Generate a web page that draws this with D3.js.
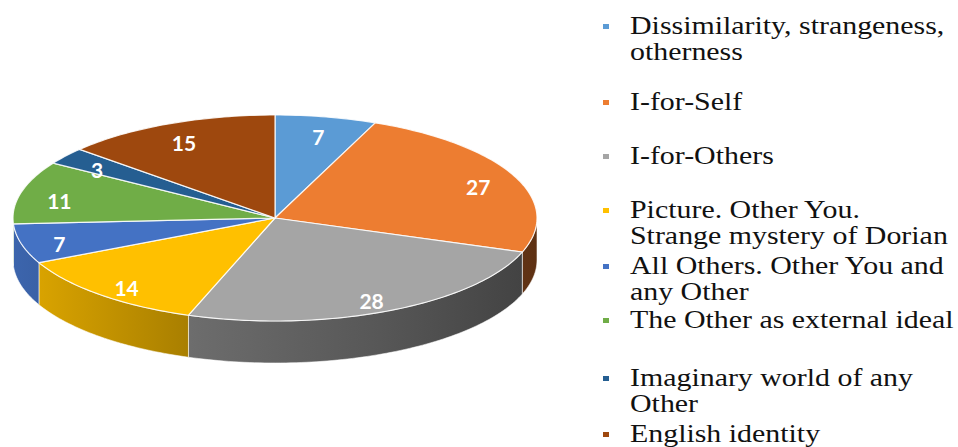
<!DOCTYPE html>
<html>
    <head>
        <script src="https://d3js.org/d3.v7.min.js"></script>
        <style>
            body { margin: 0; background: #ffffff; }
            svg { display: block; }
        </style>
    </head>
    <body>
        <div id="chart"></div>
        <script>
            // data
            var categories = ["Dissimilarity, strangeness, otherness", "I-for-Self", "I-for-Others",
                "Picture. Other You. Strange mystery of Dorian", "All Others. Other You and any Other",
                "The Other as external ideal", "Imaginary world of any Other", "English identity"];
            var values = [7, 27, 28, 14, 7, 11, 3, 15];
            var colors = ["#5B9BD5", "#ED7D31", "#A5A5A5", "#FFC000", "#4472C4", "#70AD47", "#255E91", "#9E480E"];
            // legend text broken into lines as in the picture
            var legendLines = [
                ["Dissimilarity, strangeness,", "otherness"],
                ["I-for-Self"],
                ["I-for-Others"],
                ["Picture. Other You.", "Strange mystery of Dorian"],
                ["All Others. Other You and", "any Other"],
                ["The Other as external ideal"],
                ["Imaginary world of any", "Other"],
                ["English identity"]
            ];

            var w = 958, h = 447;
            var cx = 275, cy = 218, rx = 262, ry = 103, depth = 42;

            var svg = d3.select('#chart').append('svg').attr('width', w).attr('height', h);
            var defs = svg.append('defs');

            var pie = d3.pie().sort(null).value(function(d) { return d; });
            var arcs = pie(values);

            function px(a, r) { return cx + rx * (r == null ? 1 : r) * Math.sin(a); }
            function py(a, r) { return cy - ry * (r == null ? 1 : r) * Math.cos(a); }

            function rimPoints(a0, a1) {
                var n = Math.max(2, Math.ceil((a1 - a0) / 0.02));
                return d3.range(n + 1).map(function(i) {
                    var a = a0 + (a1 - a0) * i / n;
                    return [px(a), py(a)];
                });
            }

            // side gradients, lighter on the left, darker on the right
            colors.forEach(function(c, i) {
                var g = defs.append('linearGradient').attr('id', 'side' + i)
                    .attr('gradientUnits', 'userSpaceOnUse')
                    .attr('x1', cx - rx).attr('x2', cx + rx).attr('y1', 0).attr('y2', 0);
                [[0, 0.35], [0.35, 1.2], [0.7, 1.8], [1, 2.6]].forEach(function(s) {
                    g.append('stop').attr('offset', s[0]).attr('stop-color', d3.color(c).darker(s[1]));
                });
            });

            // sides: only the front half (PI/2 .. 3PI/2) shows
            var sides = svg.append('g');
            arcs.forEach(function(d, i) {
                var a0 = Math.max(d.startAngle, Math.PI / 2);
                var a1 = Math.min(d.endAngle, 3 * Math.PI / 2);
                if (a1 <= a0) return;
                var top = rimPoints(a0, a1);
                var bottom = top.slice().reverse().map(function(p) { return [p[0], p[1] + depth]; });
                sides.append('path')
                    .attr('d', 'M' + top.concat(bottom).join('L') + 'Z')
                    .attr('fill', 'url(#side' + i + ')')
                    .attr('stroke', '#ffffff').attr('stroke-width', 0.8).attr('stroke-opacity', 0.7);
            });

            // top faces
            var tops = svg.append('g');
            arcs.forEach(function(d, i) {
                var pts = [[cx, cy]].concat(rimPoints(d.startAngle, d.endAngle));
                tops.append('path')
                    .attr('d', 'M' + pts.join('L') + 'Z')
                    .attr('fill', colors[i])
                    .attr('stroke', '#ffffff').attr('stroke-width', 1.2).attr('stroke-opacity', 0.85)
                    .attr('stroke-linejoin', 'round');
            });

            // value labels
            svg.append('g').selectAll('text').data(arcs).enter().append('text')
                .attr('x', function(d) { var a = (d.startAngle + d.endAngle) / 2; return px(a, 0.85); })
                .attr('y', function(d) { var a = (d.startAngle + d.endAngle) / 2; return py(a, 0.85) + 4; })
                .attr('text-anchor', 'middle')
                .attr('dominant-baseline', 'central')
                .style('font-family', 'Lato, "Open Sans", sans-serif')
                .style('font-weight', 'bold')
                .style('font-size', '21px')
                .attr('fill', '#ffffff')
                .text(function(d) { return d.value; });

            // legend
            var legendY = [34, 110, 164, 218, 274, 328, 386, 442];
            var legend = svg.append('g');
            legendLines.forEach(function(lines, i) {
                legend.append('rect')
                    .attr('x', 603).attr('y', legendY[i] - 10)
                    .attr('width', 6).attr('height', 5)
                    .attr('fill', colors[i]);
                var g = legend.append('g').attr('transform', 'translate(630,' + legendY[i] + ') scale(1.15,1)');
                lines.forEach(function(t, j) {
                    g.append('text')
                        .attr('x', 0).attr('y', j * 26)
                        .style('font-family', '"Liberation Serif", "Times New Roman", serif')
                        .style('font-size', '26px')
                        .attr('fill', '#111111')
                        .text(t);
                });
            });
        </script>
    </body>
</html>
